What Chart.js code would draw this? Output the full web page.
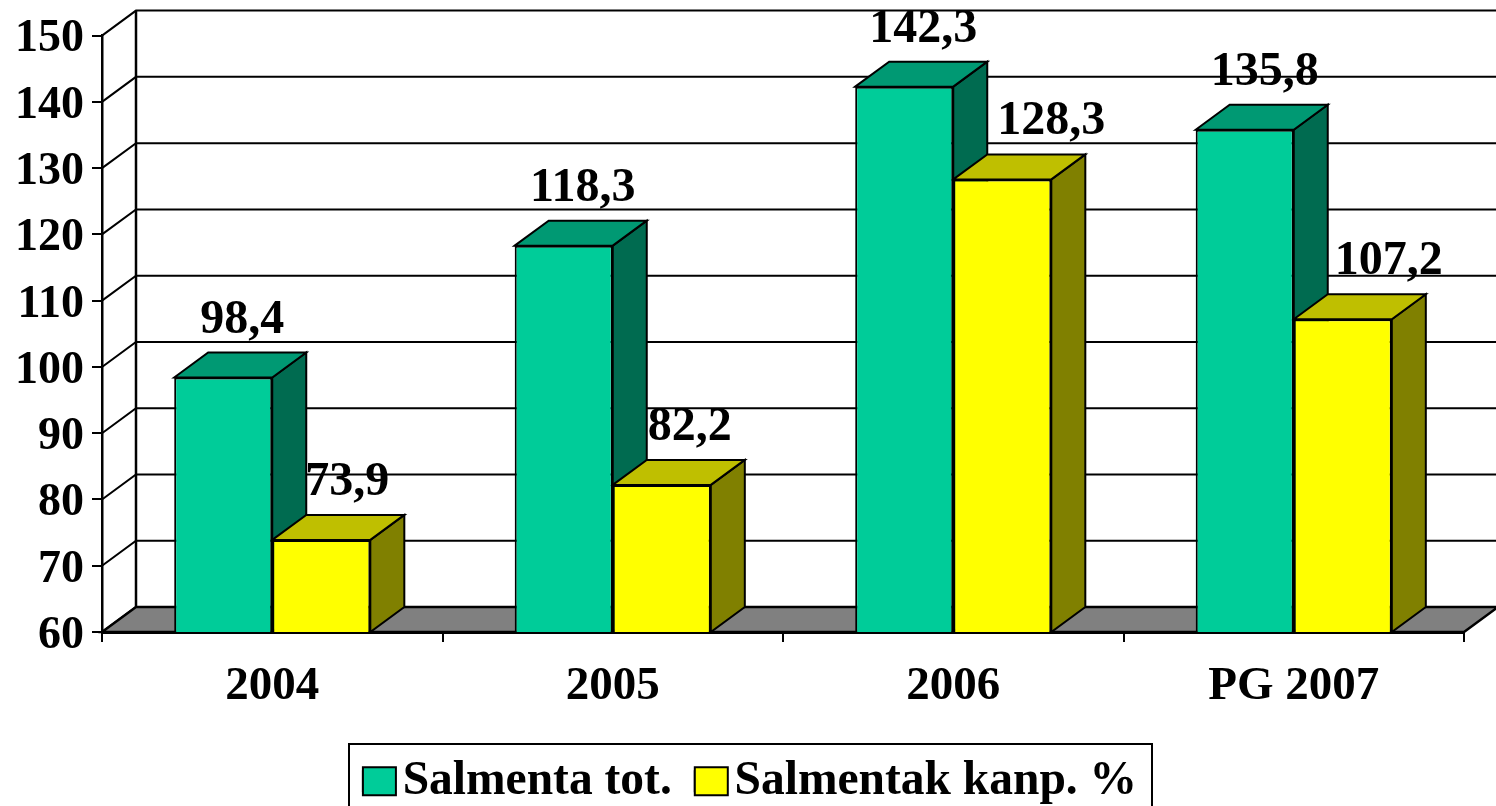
<!DOCTYPE html>
<html><head><meta charset="utf-8">
<style>html,body{margin:0;padding:0;background:#fff;overflow:hidden}#w{width:1496px;height:806px}</style>
<script src="https://cdn.jsdelivr.net/npm/chart.js@4"></script>
</head><body><div id="w"><canvas id="c" width="1496" height="806"></canvas></div>
<script>
const categories = ['2004','2005','2006','PG 2007'];
const salmentaTot = [98.4,118.3,142.3,135.8];
const salmentakKanp = [73.9,82.2,128.3,107.2];
const seriesNames = ['Salmenta tot.','Salmentak kanp. %'];
const seriesColors = ['#00CC99','#FFFF00'];
const fmt = v => v.toFixed(1).replace('.',',');
const DX=34, DY=25, FONT='"Liberation Serif"';
const labelNudge=[[19,19,19,20],[26,28,49,46]];
const shades=[{top:'#009973',side:'#006B50'},{top:'#BFBF00',side:'#808000'}];
const poly=(ctx,pts,fill)=>{ctx.beginPath();pts.forEach((p,i)=>i?ctx.lineTo(p[0],p[1]):ctx.moveTo(p[0],p[1]));ctx.closePath();if(fill){ctx.fillStyle=fill;ctx.fill();}ctx.stroke();};
const threeD={
  id:'threeD',
  afterLayout(chart){ const l=chart.legend; l.top+=9; l.bottom+=9; l.left+=18; l.right+=18; },
  beforeDatasetsDraw(chart){
    const ctx=chart.ctx,{y}=chart.scales,a=chart.chartArea;
    ctx.save();ctx.strokeStyle='#000';ctx.lineJoin='miter';
    ctx.lineWidth=2;
    y.ticks.forEach(t=>{
      const py=y.getPixelForValue(t.value);
      ctx.beginPath();ctx.moveTo(a.left,py);ctx.lineTo(a.left+DX,py-DY);ctx.lineTo(a.right+DX,py-DY);ctx.stroke();
    });
    ctx.lineWidth=2.5;
    ctx.beginPath();ctx.moveTo(a.left+DX,a.top-DY);ctx.lineTo(a.left+DX,a.bottom-DY);ctx.stroke();
    poly(ctx,[[a.left,a.bottom],[a.right,a.bottom],[a.right+DX,a.bottom-DY],[a.left+DX,a.bottom-DY]],'#808080');
    ctx.lineWidth=2;
    [0,1].forEach(d=>{
      chart.getDatasetMeta(d).data.forEach(b=>{
        const l=b.x-b.width/2,r=b.x+b.width/2,t=b.y,bt=a.bottom;
        poly(ctx,[[r,t],[r+DX,t-DY],[r+DX,bt-DY],[r,bt]],shades[d].side);
        poly(ctx,[[l,t],[l+DX,t-DY],[r+DX,t-DY],[r,t]],shades[d].top);
      });
    });
    ctx.restore();
  },
  afterDatasetsDraw(chart){
    const ctx=chart.ctx;
    ctx.save();ctx.fillStyle='#000';ctx.font='bold 48px '+FONT;ctx.textAlign='center';ctx.textBaseline='alphabetic';
    [salmentaTot,salmentakKanp].forEach((vals,d)=>{
      chart.getDatasetMeta(d).data.forEach((b,i)=>{
        ctx.fillText(fmt(vals[i]),b.x+labelNudge[d][i],b.y-45);
      });
    });
    ctx.restore();
  },
  afterDraw(chart){
    const ctx=chart.ctx,lg=chart.legend;
    ctx.save();ctx.strokeStyle='#000';ctx.lineWidth=2;
    ctx.strokeRect(349,744,803,80);
    lg.legendHitBoxes.forEach((h,i)=>{
      ctx.fillStyle=seriesColors[i];
      ctx.fillRect(h.left,h.top+h.height/2-14,33,28);
      ctx.strokeRect(h.left,h.top+h.height/2-14,33,28);
    });
    ctx.restore();
  }
};
new Chart(document.getElementById('c'),{
  type:'bar',
  data:{labels:categories,datasets:[
    {label:seriesNames[0],data:salmentaTot,backgroundColor:seriesColors[0],borderColor:'#000',borderWidth:2,borderSkipped:false,categoryPercentage:0.576,barPercentage:1},
    {label:seriesNames[1],data:salmentakKanp,backgroundColor:seriesColors[1],borderColor:'#000',borderWidth:2,borderSkipped:false,categoryPercentage:0.576,barPercentage:1}
  ]},
  options:{
    responsive:false,animation:false,
    layout:{padding:{left:0,right:32,top:34,bottom:0}},
    scales:{
      x:{offset:true,afterFit:s=>{s.height=93.5;},
        grid:{display:true,drawOnChartArea:false,offset:true,color:'#000',lineWidth:2,tickLength:10,tickColor:'#000'},
        border:{display:true,color:'#000',width:3},
        ticks:{color:'#000',font:{family:FONT,weight:'bold',size:47},padding:17,maxRotation:0}},
      y:{min:60,max:150,afterFit:s=>{s.width=102;},
        grid:{display:true,drawOnChartArea:false,color:'#000',lineWidth:2,tickLength:10,tickColor:'#000'},
        border:{display:true,color:'#000',width:2.5},
        ticks:{stepSize:10,color:'#000',font:{family:FONT,weight:'bold',size:46},padding:8,labelOffset:4}}
    },
    plugins:{
      tooltip:{enabled:false},
      legend:{display:true,position:'bottom',
        labels:{color:'#000',font:{family:FONT,weight:'bold',size:47.5},boxWidth:16,boxHeight:20,padding:23}}
    }
  },
  plugins:[threeD]
});
</script></body></html>
